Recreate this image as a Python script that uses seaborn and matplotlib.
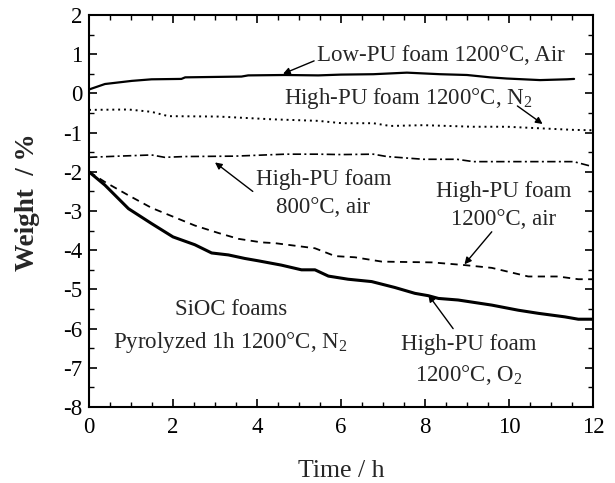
import matplotlib
matplotlib.use("Agg")
import matplotlib.pyplot as plt
import seaborn as sns
import pandas as pd
from matplotlib.ticker import MultipleLocator

sns.set_theme(style="ticks")
plt.rcParams['font.family'] = ['Liberation Serif', 'DejaVu Serif']
plt.rcParams['mathtext.fontset'] = 'custom'
plt.rcParams['mathtext.rm'] = 'Liberation Serif'

t_low_air = [0, 0.38, 1.02, 1.49, 2.2, 2.29, 3.63, 3.79, 4.67, 5.46, 6.0, 6.77, 7.57, 8.36, 9.0, 9.55, 9.95, 10.74, 11.38, 11.55]
w_low_air = [0.1, 0.24, 0.32, 0.36, 0.37, 0.41, 0.43, 0.46, 0.47, 0.46, 0.48, 0.49, 0.53, 0.49, 0.47, 0.41, 0.38, 0.34, 0.36, 0.37]

t_high_n2 = [0, 0.94, 1.49, 1.89, 3.08, 4.35, 5.46, 6.02, 6.77, 7.17, 7.96, 9.15, 9.95, 10.74, 11.54, 12.0]
w_high_n2 = [-0.42, -0.41, -0.47, -0.58, -0.59, -0.66, -0.7, -0.76, -0.76, -0.83, -0.81, -0.85, -0.85, -0.89, -0.93, -0.94]

t_800_air = [0, 0.7, 1.49, 1.8, 2.29, 3.47, 4.67, 5.46, 6.0, 6.77, 7.09, 7.96, 8.76, 9.15, 10.35, 11.54, 11.93, 12.0]
w_800_air = [-1.63, -1.6, -1.57, -1.63, -1.61, -1.6, -1.55, -1.55, -1.56, -1.55, -1.61, -1.68, -1.68, -1.74, -1.74, -1.74, -1.85, -1.86]

t_1200_air = [0, 0.38, 0.94, 1.49, 1.97, 2.52, 3.08, 3.56, 4.11, 4.43, 5.38, 5.86, 6.33, 6.97, 7.52, 8.16, 8.95, 9.59, 10.46, 11.17, 11.65, 12.0]
w_1200_air = [-2.0, -2.26, -2.6, -2.92, -3.13, -3.37, -3.56, -3.71, -3.8, -3.82, -3.95, -4.15, -4.18, -4.29, -4.3, -4.31, -4.38, -4.45, -4.67, -4.67, -4.74, -4.74]

t_1200_o2 = [0, 0.38, 0.94, 1.49, 2.0, 2.52, 2.92, 3.32, 3.71, 4.03, 4.58, 5.06, 5.38, 5.7, 6.17, 6.73, 7.28, 7.76, 8.08, 8.32, 8.79, 9.59, 10.22, 10.7, 11.33, 11.65, 12.0]
w_1200_o2 = [-2.0, -2.34, -2.94, -3.32, -3.66, -3.86, -4.07, -4.12, -4.21, -4.27, -4.38, -4.5, -4.5, -4.66, -4.74, -4.8, -4.95, -5.1, -5.16, -5.23, -5.27, -5.4, -5.53, -5.61, -5.7, -5.76, -5.76]

xticks = [0, 2, 4, 6, 8, 10, 12]
yticks = [2, 1, 0, -1, -2, -3, -4, -5, -6, -7, -8]

fig = plt.figure(figsize=(6.15, 4.83), dpi=100)
ax = fig.add_axes([0.1447, 0.1573, 0.8195, 0.8116])

series = [
    (t_low_air, w_low_air, '-', 1.6),
    (t_high_n2, w_high_n2, (0, (1, 2)), 1.4),
    (t_800_air, w_800_air, (0, (5, 2, 1.2, 2)), 1.2),
    (t_1200_air, w_1200_air, (0, (4, 3)), 1.3),
    (t_1200_o2, w_1200_o2, '-', 2.2),
]
for t, w, ls, lw in series:
    df = pd.DataFrame({'t': t, 'w': w})
    sns.lineplot(data=df, x='t', y='w', ax=ax, color='black', linestyle=ls, linewidth=lw)

ax.set_xlim(0, 12)
ax.set_ylim(-8, 2)
ax.set_xticks(xticks)
ax.set_yticks(yticks)
ax.set_yticklabels([str(v) for v in yticks])
ax.xaxis.set_minor_locator(MultipleLocator(0.5))
ax.yaxis.set_minor_locator(MultipleLocator(0.5))
ax.tick_params(which='both', direction='in', top=True, right=True, colors='black', labelsize=16.5)
ax.tick_params(axis='x', which='major', pad=7)
ax.tick_params(axis='y', which='major', pad=5)
ax.tick_params(which='major', length=6, width=1.2)
ax.tick_params(which='minor', length=3.5, width=1.0)
for s in ax.spines.values():
    s.set_linewidth(1.5)
    s.set_color('black')

ax.set_xlabel('Time / h', fontsize=18.5, labelpad=16)
ax.set_ylabel('Weight  / %', fontsize=19.5, fontweight='bold')
ax.yaxis.set_label_coords(-0.098, 0.522)

fs = 16.5
arrow = dict(arrowstyle='-|>', color='black', lw=1.0, mutation_scale=10, shrinkA=0, shrinkB=0)
ax.text(8.37, 0.98, 'Low-PU foam 1200°C, Air', ha='center', va='center', fontsize=fs)
ax.annotate('', xy=(4.62, 0.5), xytext=(5.36, 0.83), arrowprops=arrow)
ax.text(7.6, -0.12, 'High-PU foam 1200°C, N$_2$', ha='center', va='center', fontsize=fs)
ax.annotate('', xy=(10.8, -0.78), xytext=(10.2, -0.32), arrowprops=arrow)
ax.text(5.58, -2.55, 'High-PU foam\n800°C, air', ha='center', va='center', fontsize=fs, linespacing=1.45)
ax.annotate('', xy=(3.0, -1.76), xytext=(3.9, -2.5), arrowprops=arrow)
ax.text(9.87, -2.85, 'High-PU foam\n1200°C, air', ha='center', va='center', fontsize=fs, linespacing=1.45)
ax.annotate('', xy=(8.94, -4.36), xytext=(9.59, -3.53), arrowprops=arrow)
ax.text(9.05, -6.82, 'High-PU foam\n1200°C, O$_2$', ha='center', va='center', fontsize=fs, linespacing=1.45)
ax.annotate('', xy=(8.08, -5.14), xytext=(8.67, -6.0), arrowprops=arrow)
ax.text(3.38, -5.52, 'SiOC foams', ha='center', va='center', fontsize=fs)
ax.text(3.37, -6.36, 'Pyrolyzed 1h 1200°C, N$_2$', ha='center', va='center', fontsize=fs)

fig.savefig('out.png', dpi=100)
